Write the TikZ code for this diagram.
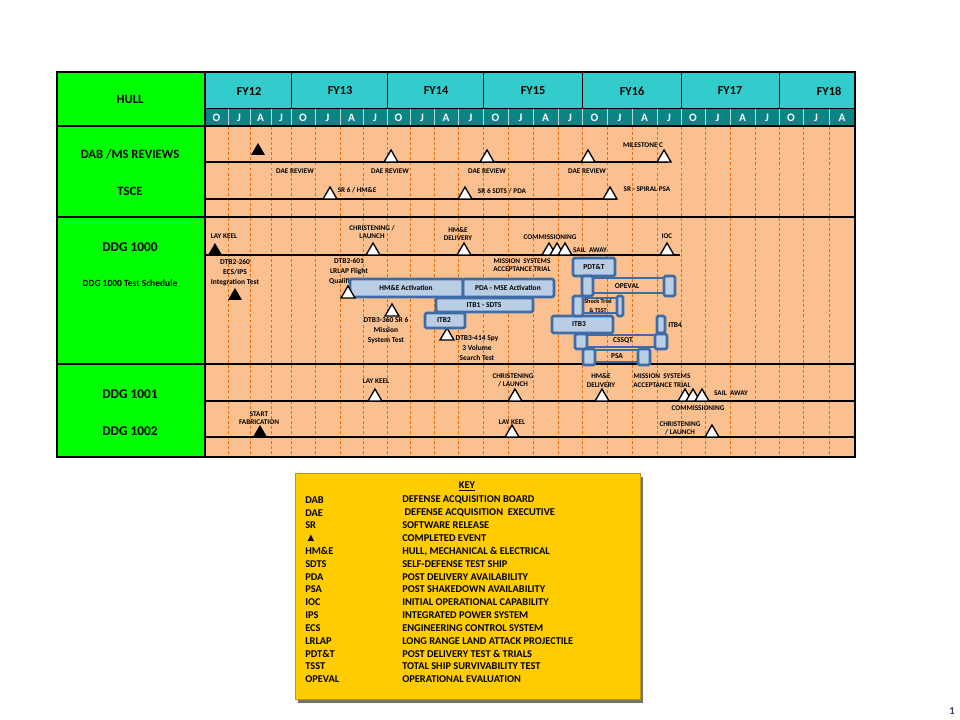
\documentclass[tikz,border=0pt]{standalone}
\usepackage{fontspec}
\setmainfont{Carlito}
\newfontfamily\symfont{DejaVu Sans}
\usepackage{tikz}
\usetikzlibrary{positioning,calc}
\definecolor{hullgreen}{HTML}{00FF00}
\definecolor{fyteal}{HTML}{33CCCC}
\definecolor{monthteal}{HTML}{0B8484}
\definecolor{peach}{HTML}{FAC090}
\definecolor{gridorange}{HTML}{E46C0A}
\definecolor{barblue}{HTML}{3D6CA6}
\definecolor{barfill}{HTML}{B9CDE5}
\definecolor{keygold}{HTML}{FFCC00}
\definecolor{pagenum}{HTML}{3B3B6D}

\begin{document}
\begin{tikzpicture}[x=0.75pt, y=-0.75pt,
    rowlabel/.style={font=\fontsize{9.5}{10}\selectfont\bfseries, inner sep=0pt},
    yearlabel/.style={font=\fontsize{9.2}{10}\selectfont\bfseries, inner sep=0pt},
    monthlabel/.style={font=\fontsize{8.5}{9}\selectfont\bfseries, text=white, inner sep=0pt},
    evlabel/.style={font=\fontsize{5.4}{6.4}\selectfont\bfseries, inner sep=0pt, align=center},
    barlabel/.style={font=\fontsize{5.6}{7.5}\selectfont\bfseries, inner sep=0pt, align=center},
    keylabel/.style={font=\fontsize{7.8}{8}\selectfont\bfseries, inner sep=0pt, anchor=west},
    gridline/.style={gridorange, line width=0.5pt, dash pattern=on 2.2pt off 1.6pt},
    rowline/.style={black, line width=1.1pt},
    sectline/.style={black, line width=1.7pt},
    tbar/.style={draw=barblue, line width=2pt, fill=barfill, rounded corners=1.2pt},
    tframe/.style={draw=barblue, line width=1.1pt},
    openmile/.pic={\draw[black, line width=1pt, fill=white] (-7,0) -- (7,0) -- (0,-12) -- cycle;},
    donemile/.pic={\fill[black] (-7,0) -- (7,0) -- (0,-12) -- cycle;}]

    % Canvas
    \useasboundingbox (0,0) rectangle (960,720);
    \fill[white] (0,0) rectangle (960,720);

    % Chart background
    \fill[hullgreen] (57,72) rectangle (205,457);
    \fill[fyteal] (205,72) rectangle (855,108);
    \fill[monthteal] (205,108) rectangle (855,126);
    \fill[peach] (205,126) rectangle (855,457);

    % Quarter grid
    \foreach \gx in {228,250,271,291,315,340,363,387,410,434,458,483,508,533,558,582,607,632,657,681,705,730,755,779,803,829}
        \draw[gridline] (\gx,127) -- (\gx,457);
    \foreach \gx in {228,250,271,291,315,340,363,387,410,434,458,483,508,533,558,582,607,632,657,681,705,730,755,779,803,829}
        \draw[white!70!monthteal, line width=0.6pt] (\gx,108) -- (\gx,126);
    \foreach \gx in {291,387,483,582,681,779}
        \draw[black, line width=0.6pt] (\gx,72) -- (\gx,108);

    % Frame
    \draw[black, line width=0.7pt] (205,108) -- (855,108);
    \draw[sectline] (57,126) -- (855,126);
    \draw[sectline] (57,217) -- (855,217);
    \draw[sectline] (57,364) -- (855,364);
    \draw[black, line width=1pt] (205,72) -- (205,457);
    \draw[black, line width=1pt] (57,72) rectangle (855,457);

    % Row lines
    \draw[rowline] (205,162) -- (668,162);
    \draw[rowline] (205,199) -- (617,199);
    \draw[rowline] (205,255) -- (680,255);
    \draw[rowline] (205,401) -- (855,401);
    \draw[rowline] (205,437) -- (855,437);

    % Row labels
    \node[rowlabel] (hull) at (130,99) {HULL};
    \node[rowlabel] (dab) at (130,154) {DAB /MS REVIEWS};
    \node[rowlabel] (tsce) at (130,191) {TSCE};
    \node[rowlabel, font=\fontsize{10}{10}\selectfont\bfseries] (ddg1000) at (130,247) {DDG 1000};
    \node[rowlabel, font=\fontsize{7.1}{8}\selectfont\bfseries] (testsched) at (130,283) {DDG 1000 Test Schedule};
    \node[rowlabel, font=\fontsize{10}{10}\selectfont\bfseries] (ddg1001) at (130,394) {DDG 1001};
    \node[rowlabel, font=\fontsize{10}{10}\selectfont\bfseries] (ddg1002) at (130,431) {DDG 1002};

    % Fiscal years and quarters
    \foreach \yc/\fy in {249/FY12, 340/FY13, 436/FY14, 533/FY15, 632/FY16, 730/FY17, 829/FY18}
        \node[yearlabel] (\fy) at (\yc,91) {\fy};
    \foreach \mc/\m [count=\k] in {216.5/O, 239/J, 260.5/A, 281/J, 303/O, 327.5/J, 351.5/A, 375/J,
            398.5/O, 422/J, 446/A, 470.5/J, 495.5/O, 520.5/J, 545.5/A, 570/J, 594.5/O, 619.5/J,
            644.5/A, 669/J, 693/O, 717.5/J, 742.5/A, 767/J, 791/O, 816/J, 842/A}
        \node[monthlabel] (m\k) at (\mc,117.5) {\m};

    % DAB / MS reviews
    \pic at (258,155) {donemile};
    \pic at (391,162) {openmile};
    \pic at (487,162) {openmile};
    \pic at (588,162) {openmile};
    \pic at (664,162) {openmile};
    \node[evlabel] (dae1) at (295,171) {DAE REVIEW};
    \node[evlabel] (dae2) at (390,171) {DAE REVIEW};
    \node[evlabel] (dae3) at (487,171) {DAE REVIEW};
    \node[evlabel] (dae4) at (587,171) {DAE REVIEW};
    \node[evlabel] (msc) at (643,145) {MILESTONE C};

    % TSCE
    \pic at (330,199) {openmile};
    \pic at (465,199) {openmile};
    \pic at (610,199) {openmile};
    \node[evlabel] (sr6hme) at (357,190) {SR 6 / HM\&E};
    \node[evlabel] (sr6sdts) at (502,191) {SR 6 SDTS / PDA};
    \node[evlabel] (srspiral) at (647,189) {SR - SPIRAL PSA};

    % DDG 1000 milestones
    \pic at (215,255) {donemile};
    \pic at (373,255) {openmile};
    \pic at (464,255) {openmile};
    \pic at (549,255) {openmile};
    \pic at (557,255) {openmile};
    \pic at (565,255) {openmile};
    \pic at (667,255) {openmile};
    \node[evlabel] (laykeel0) at (224,236) {LAY KEEL};
    \node[evlabel] (christen0) at (372,232) {CHRISTENING /\\LAUNCH};
    \node[evlabel] (hmedel0) at (458,234) {HM\&E\\DELIVERY};
    \node[evlabel] (comm0) at (550,237) {COMMISSIONING};
    \node[evlabel] (sail0) at (590,250) {SAIL\ \ AWAY};
    \node[evlabel] (ioc0) at (667,236) {IOC};
    \node[evlabel] (mst0) at (522,265) {MISSION\ \ SYSTEMS\\ACCEPTANCE TRIAL};

    % DDG 1000 tests
    \node[barlabel] (dtb260) at (235,273) {DTB2-260\\ECS/IPS\\Integration Test};
    \pic at (235,300) {donemile};
    \node[barlabel] (dtb601) at (349,271) {DTB2-601\\LRLAP Flight\\Qualification};
    \node[barlabel] (dtb360) at (386,331) {DTB3-360 SR 6\\Mission\\System Test};
    \pic at (392,316) {openmile};
    \node[barlabel] (dtb414) at (477,348) {DTB3-414 Spy\\3 Volume\\Search Test};
    \pic at (447,340) {openmile};

    % Test bars
    \draw[tbar] (350,279) rectangle (463,297);
    \draw[tbar] (463,279) rectangle (554,297);
    \draw[tbar] (436,298) rectangle (533,312);
    \draw[tbar] (425,313) rectangle (465,328);
    \draw[tbar] (573,258) rectangle (615,276);
    \draw[tbar] (552,316) rectangle (613,333);
    \draw[tbar] (657,316) rectangle (665,333);
    \pic at (348,298) {openmile};
    \node[barlabel] (hmeact) at (406,288) {HM\&E Activation};
    \node[barlabel] (pdamse) at (508,288) {PDA - MSE Activation};
    \node[barlabel] (itb1) at (484,305) {ITB1 - SDTS};
    \node[barlabel] (itb2) at (444,320.5) {ITB2};
    \node[barlabel] (pdtt) at (594,267) {PDT\&T};
    \node[barlabel] (itb3) at (579,324.5) {ITB3};
    \node[barlabel, anchor=west] (itb4) at (668,325) {ITB4};

    % Framed bars
    \draw[tframe] (587,278) rectangle (668,293);
    \draw[tbar] (582,276) rectangle (593,296);
    \draw[tbar] (664,276) rectangle (675,296);
    \node[barlabel] (opeval) at (627,286) {OPEVAL};
    \draw[tframe] (578,298) rectangle (620,313);
    \draw[tbar] (573,296) rectangle (583,316);
    \draw[tbar] (617,296) rectangle (623,316);
    \node[barlabel, font=\fontsize{4.6}{6.5}\selectfont\bfseries] (shock) at (598,306) {Shock Trial\\\& TSST};
    \draw[tframe] (581,335) rectangle (661,347);
    \draw[tbar] (575,334) rectangle (587,349);
    \draw[tbar] (655,334) rectangle (667,349);
    \node[barlabel] (cssqt) at (623,341) {CSSQT};
    \draw[tframe] (589,350) rectangle (644,362);
    \draw[tbar] (583,349) rectangle (595,365);
    \draw[tbar] (638,349) rectangle (650,365);
    \node[barlabel] (psa0) at (617,356) {PSA};

    % DDG 1001
    \pic at (375,401) {openmile};
    \pic at (515,401) {openmile};
    \pic at (602,401) {openmile};
    \pic at (685,401) {openmile};
    \pic at (693,401) {openmile};
    \pic at (702,401) {openmile};
    \node[evlabel] (laykeel1) at (376,381) {LAY KEEL};
    \node[evlabel] (christen1) at (513,380.5) {CHRISTENING\\/ LAUNCH};
    \node[evlabel] (hmedel1) at (601,380.5) {HM\&E\\DELIVERY};
    \node[evlabel] (mst1) at (662,380.5) {MISSION\ \ SYSTEMS\\ACCEPTANCE TRIAL};
    \node[evlabel] (sail1) at (731,393) {SAIL\ \ AWAY};
    \node[evlabel] (comm1) at (698,408) {COMMISSIONING};

    % DDG 1002
    \pic at (260,437) {donemile};
    \pic at (512,437) {openmile};
    \pic at (712,437) {openmile};
    \node[evlabel] (startfab) at (259,418) {START\\FABRICATION};
    \node[evlabel] (laykeel2) at (512,422) {LAY KEEL};
    \node[evlabel] (christen2) at (680,428.5) {CHRISTENING\\/ LAUNCH};

    % Key
    \fill[black!55] (298,477) rectangle (643,703);
    \fill[keygold] (295,473) rectangle (640,699);
    \draw[keygold!75!black, line width=0.6pt] (295,473) rectangle (640,699);
    \node[keylabel, anchor=center] (keytitle) at (467,486) {\underline{KEY}};
    \foreach \ab/\full [count=\i from 0] in {DAB/DEFENSE ACQUISITION BOARD,
            DAE/\ DEFENSE ACQUISITION\ \ EXECUTIVE, SR/SOFTWARE RELEASE,
            {\ \symfont\fontsize{6.5}{7}\selectfont ▲}/COMPLETED EVENT,
            HM\&E/{HULL, MECHANICAL \& ELECTRICAL}, SDTS/SELF-DEFENSE TEST SHIP,
            PDA/POST DELIVERY AVAILABILITY, PSA/POST SHAKEDOWN AVAILABILITY,
            IOC/INITIAL OPERATIONAL CAPABILITY, IPS/INTEGRATED POWER SYSTEM,
            ECS/ENGINEERING CONTROL SYSTEM, LRLAP/LONG RANGE LAND ATTACK PROJECTILE,
            PDT\&T/POST DELIVERY TEST \& TRIALS, TSST/TOTAL SHIP SURVIVABILITY TEST,
            OPEVAL/OPERATIONAL EVALUATION} {
        \node[keylabel] (kab\i) at (305,{500+12.8*\i}) {\ab};
        \node[keylabel] (kfull\i) at (402,{500+12.8*\i}) {\full};
    }

    % Page number
    \node[font=\fontsize{8}{8}\selectfont\bfseries, text=pagenum, inner sep=0pt] (pageno) at (952,711) {1};
\end{tikzpicture}
\end{document}
